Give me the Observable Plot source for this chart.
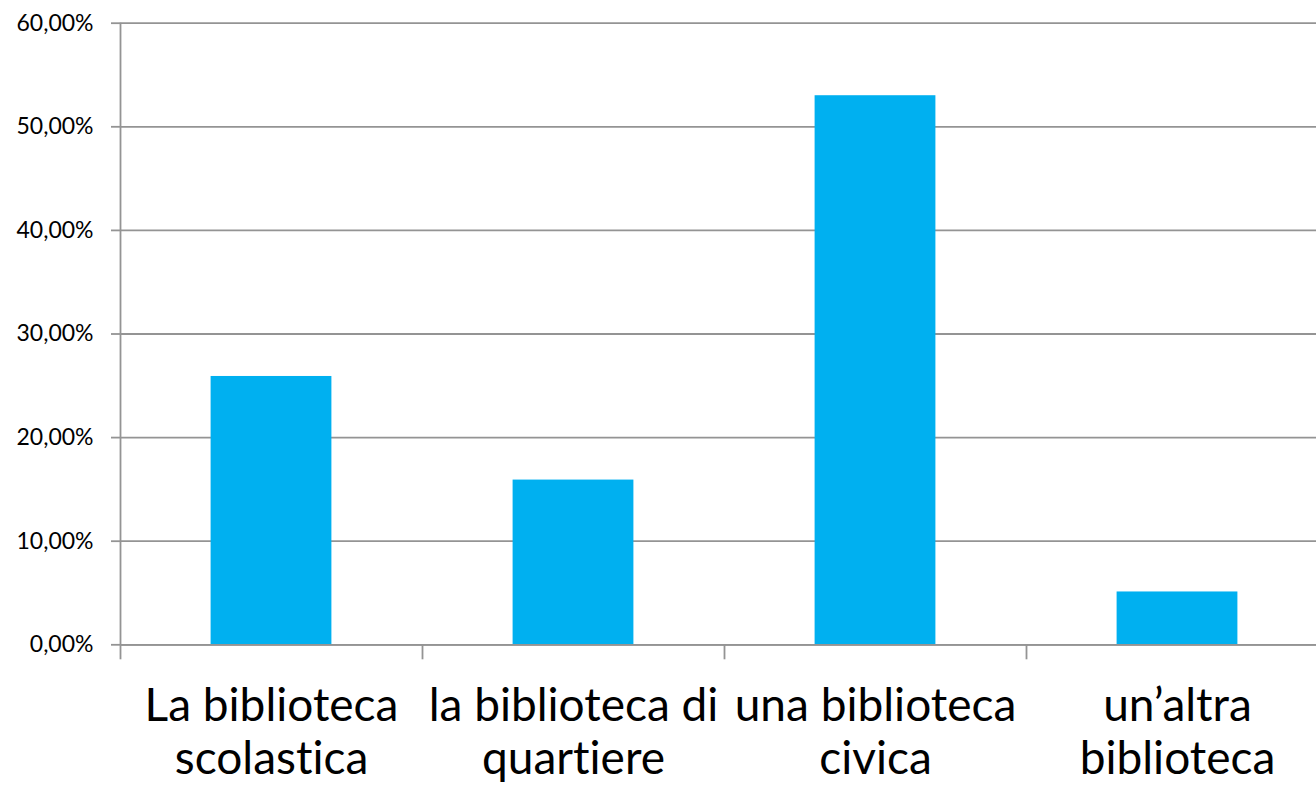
<!DOCTYPE html>
<html>
<head>
<meta charset="utf-8">
<script src="https://cdn.jsdelivr.net/npm/d3@7"></script>
<script src="https://cdn.jsdelivr.net/npm/@observablehq/plot@0.6"></script>
<style>
  html, body { margin: 0; padding: 0; background: #fff; }
  #chart { width: 1316px; height: 788px; overflow: hidden; }
  #chart svg text { font-variant-ligatures: none; font-feature-settings: "liga" 0, "clig" 0; }
</style>
</head>
<body>
<div id="chart"></div>
<script>
const categories = ["La biblioteca\nscolastica", "la biblioteca di\nquartiere", "una biblioteca\ncivica", "un’altra\nbiblioteca"];
const values = [25.9, 15.9, 53.0, 5.1];
const yTicks = [0, 10, 20, 30, 40, 50, 60];

const data = categories.map((c, i) => ({ i, category: c, value: values[i] }));
const boundaries = d3.range(categories.length + 1);
const gridColor = "#949494";
const fmt = d => d.toFixed(2).replace(".", ",") + "%";

const chart = Plot.plot({
  width: 1316,
  height: 788,
  marginLeft: 120,
  marginRight: 0,
  marginTop: 22.7,
  marginBottom: 143.7,
  style: { fontFamily: "Lato, sans-serif", fontSize: "23px", color: "#000", background: "#fff", overflow: "hidden" },
  x: { type: "linear", domain: [0, categories.length], range: [120, 1328] },
  y: { domain: [0, 60] },
  marks: [
    Plot.gridY(yTicks, { stroke: gridColor, strokeOpacity: 1, strokeWidth: 1.8 }),
    Plot.axisY({ ticks: yTicks, tickFormat: fmt, tickSize: 9, tickPadding: 18, stroke: gridColor, strokeWidth: 1.8, strokeOpacity: 1, fill: "#000", label: null, fontSize: 23 }),
    Plot.rectY(data, { x1: d => d.i + 0.3, x2: d => d.i + 0.7, y1: 0, y2: "value", fill: "#00B0F0" }),
    Plot.ruleY([0], { stroke: gridColor, strokeWidth: 1.8 }),
    Plot.ruleX([0], { y1: 0, y2: 60, stroke: gridColor, strokeWidth: 1.8 }),
    Plot.axisX({ ticks: boundaries, tickFormat: () => "", tickSize: 15, stroke: gridColor, strokeWidth: 1.8, strokeOpacity: 1, label: null }),
    Plot.text(data, { x: d => d.i + 0.5, y: 0, text: "category", dy: 39, lineAnchor: "top", fontSize: 46, lineHeight: 1.15, fill: "#000" })
  ]
});
document.getElementById("chart").appendChild(chart);
</script>
</body>
</html>
